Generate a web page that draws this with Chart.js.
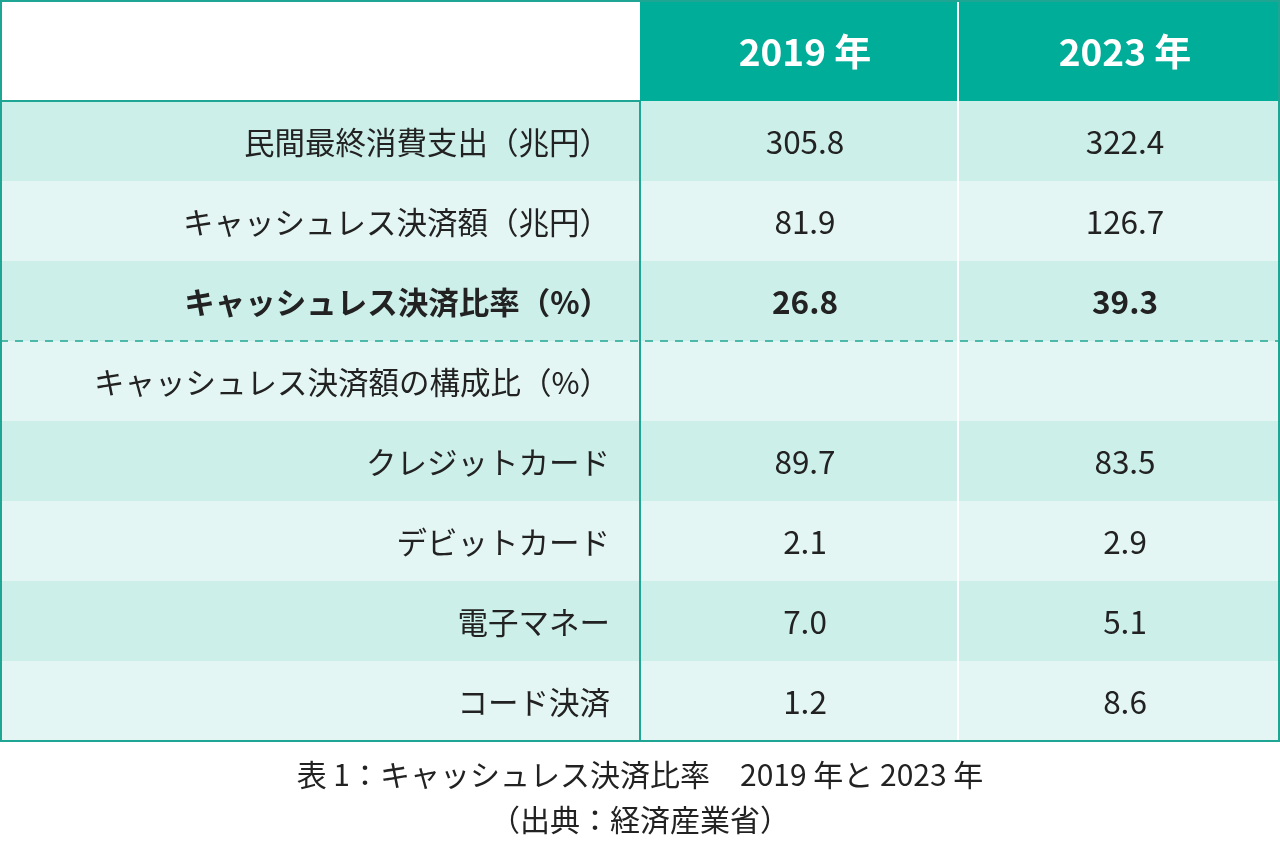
<!DOCTYPE html>
<html lang="ja">
<head>
<meta charset="utf-8">
<title>キャッシュレス決済比率</title>
<script src="https://cdn.jsdelivr.net/npm/chart.js@4.4.1/dist/chart.umd.min.js"></script>
<style>
    html, body { margin: 0; padding: 0; background: #ffffff; }
    canvas { display: block; }
</style>
</head>
<body>
<canvas id="tableChart" width="1280" height="853"></canvas>
<script>
// Table data
const rowLabels = [
    "民間最終消費支出（兆円）",
    "キャッシュレス決済額（兆円）",
    "キャッシュレス決済比率（%）",
    "キャッシュレス決済額の構成比（%）",
    "クレジットカード",
    "デビットカード",
    "電子マネー",
    "コード決済"
];
const yearLabels = ["2019 年", "2023 年"];
const values2019 = [305.8, 81.9, 26.8, null, 89.7, 2.1, 7.0, 1.2];
const values2023 = [322.4, 126.7, 39.3, null, 83.5, 2.9, 5.1, 8.6];
const captionLines = [
    "表 1：キャッシュレス決済比率　2019 年と 2023 年",
    "（出典：経済産業省）"
];

const FONT = "'Noto Sans CJK JP', 'Noto Sans', sans-serif";
const TEAL = "#00ad98";
const BORDER = "#1fa593";
const ROW_DARK = "#cdefe9";
const ROW_LIGHT = "#e3f6f3";
const TEXT = "#222222";

// column edges: label | 2019 | 2023
const colEdges = [0, 640, 958, 1280];
const boldRow = 2;
const dashedAfterRow = 2;

document.addEventListener('DOMContentLoaded', function() {
    initTableChart();
});

// Plugin that paints the table cells on the category scale rows
const tablePlugin = {
    id: 'tablePlugin',
    afterDraw(chart) {
        const ctx = chart.ctx;
        const area = chart.chartArea;
        const yScale = chart.scales.y;
        const labels = chart.data.labels;
        const sets = chart.data.datasets;
        const rowH = yScale.getPixelForValue(1) - yScale.getPixelForValue(0);
        const headTop = 0;
        const headBottom = area.top;

        ctx.save();

        // header row
        ctx.fillStyle = "#ffffff";
        ctx.fillRect(colEdges[0], headTop, colEdges[1] - colEdges[0], headBottom - headTop);
        ctx.fillStyle = TEAL;
        ctx.fillRect(colEdges[1], headTop, colEdges[3] - colEdges[1], headBottom - headTop);

        ctx.font = "bold 37px " + FONT;
        ctx.fillStyle = "#ffffff";
        ctx.textAlign = "center";
        ctx.textBaseline = "middle";
        sets.forEach((ds, j) => {
            const cx = (colEdges[j + 1] + colEdges[j + 2]) / 2 + 6;
            ctx.fillText(ds.label, cx, (headTop + headBottom) / 2 + 1);
        });

        // body rows
        labels.forEach((label, i) => {
            const cy = yScale.getPixelForValue(i);
            const top = cy - rowH / 2;
            ctx.fillStyle = i % 2 === 0 ? ROW_DARK : ROW_LIGHT;
            ctx.fillRect(area.left, top, area.right - area.left, rowH);

            const weight = i === boldRow ? "bold " : "";
            ctx.font = weight + "30.5px " + FONT;
            ctx.fillStyle = TEXT;
            ctx.textAlign = "right";
            ctx.fillText(label, colEdges[1] - 30, cy + 1);

            ctx.font = weight + "31.5px " + FONT;
            ctx.textAlign = "center";
            sets.forEach((ds, j) => {
                const v = ds.data[i];
                if (v === null) return;
                const cx = (colEdges[j + 1] + colEdges[j + 2]) / 2 + 6;
                ctx.fillText(v.toFixed(1), cx, cy + 1);
            });
        });

        // white divider between the year columns
        ctx.fillStyle = "#ffffff";
        ctx.fillRect(colEdges[2] - 1, headTop, 2, area.bottom - headTop);

        // teal divider after the label column
        ctx.fillStyle = BORDER;
        ctx.fillRect(colEdges[1] - 1, headBottom, 2, area.bottom - headBottom);
        ctx.fillRect(colEdges[0], headBottom - 1, colEdges[1], 2);

        // dashed line under the ratio row
        const dashY = yScale.getPixelForValue(dashedAfterRow) + rowH / 2;
        ctx.strokeStyle = BORDER;
        ctx.lineWidth = 1.5;
        ctx.setLineDash([8, 7]);
        ctx.beginPath();
        ctx.moveTo(area.left, dashY);
        ctx.lineTo(area.right, dashY);
        ctx.stroke();
        ctx.setLineDash([]);

        // outer border
        ctx.strokeStyle = BORDER;
        ctx.lineWidth = 2;
        ctx.strokeRect(area.left + 1, headTop + 1, area.right - area.left - 2, area.bottom - headTop - 1);

        ctx.restore();
    }
};

function initTableChart() {
    const ctx = document.getElementById("tableChart").getContext("2d");

    new Chart(ctx, {
        type: "bar",
        data: {
            labels: rowLabels,
            datasets: [
                { label: yearLabels[0], data: values2019, backgroundColor: "rgba(0,0,0,0)" },
                { label: yearLabels[1], data: values2023, backgroundColor: "rgba(0,0,0,0)" }
            ]
        },
        options: {
            indexAxis: 'y',
            responsive: false,
            animation: false,
            devicePixelRatio: 1,
            layout: {
                padding: { top: 101, left: 0, right: 0, bottom: 0 }
            },
            plugins: {
                legend: { display: false },
                tooltip: { enabled: false },
                title: {
                    display: true,
                    position: 'bottom',
                    text: captionLines,
                    color: TEXT,
                    font: { family: FONT, size: 30, weight: 'normal', lineHeight: 1.5 },
                    padding: { top: 11.5, bottom: 10.5 }
                }
            },
            scales: {
                x: { display: false, min: 0, max: 400 },
                y: { display: false }
            }
        },
        plugins: [tablePlugin]
    });
}
</script>
</body>
</html>
